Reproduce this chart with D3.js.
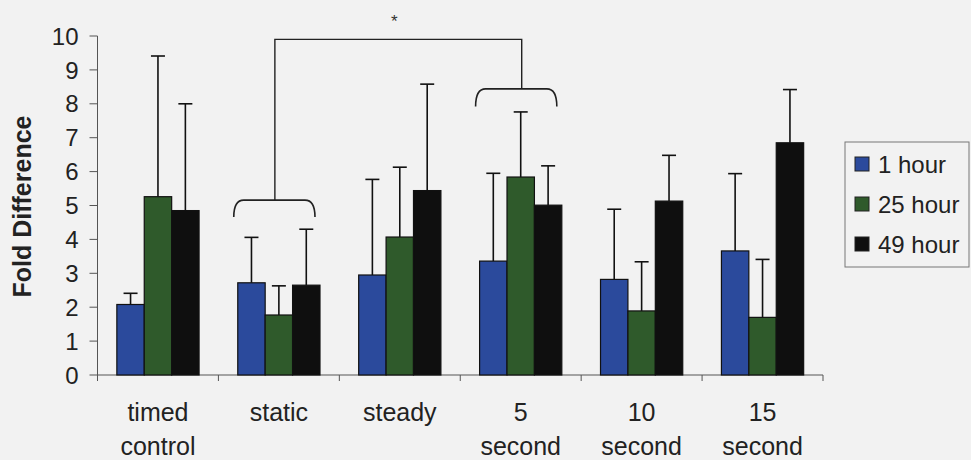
<!DOCTYPE html>
<html>
<head>
<meta charset="utf-8">
<script src="https://cdn.jsdelivr.net/npm/d3@7"></script>
<style>
  body { margin: 0; background: #f2f2f2; }
  svg { display: block; font-family: Arial, "Liberation Sans", sans-serif; }
</style>
</head>
<body>
<div id="chart"></div>
<script>
// data
var categories = [["timed", "control"], ["static"], ["steady"], ["5", "second"], ["10", "second"], ["15", "second"]];
var seriesNames = ["1 hour", "25 hour", "49 hour"];
var colors = ["#2b4a9c", "#2f5a2b", "#0f0f0f"];

var hour1 = [2.08, 2.72, 2.95, 3.36, 2.82, 3.66];
var hour25 = [5.26, 1.77, 4.07, 5.84, 1.89, 1.70];
var hour49 = [4.85, 2.65, 5.44, 5.01, 5.13, 6.85];

var err1 = [0.33, 1.34, 2.82, 2.59, 2.07, 2.28];
var err25 = [4.15, 0.86, 2.06, 1.92, 1.45, 1.71];
var err49 = [3.15, 1.65, 3.14, 1.16, 1.35, 1.57];

var yTicks = [0, 1, 2, 3, 4, 5, 6, 7, 8, 9, 10];

var values = [hour1, hour25, hour49];
var errors = [err1, err25, err49];

var width = 971, height = 460;
var margin = { top: 36, right: 148, bottom: 85, left: 97.5 };

var svg = d3.select("#chart").append("svg")
    .attr("width", width)
    .attr("height", height);

var g = svg.append("g").attr("transform", "translate(" + margin.left + "," + margin.top + ")");
var innerW = width - margin.left - margin.right;
var innerH = height - margin.top - margin.bottom;

var x0 = d3.scaleBand()
    .domain(d3.range(categories.length))
    .range([0, innerW])
    .paddingInner(0.32)
    .paddingOuter(0.16);

var x1 = d3.scaleBand()
    .domain(d3.range(seriesNames.length))
    .range([0, x0.bandwidth()]);

var y = d3.scaleLinear().domain([0, 10]).range([innerH, 0]);

// y axis
g.append("line")
    .attr("x1", 0).attr("x2", 0)
    .attr("y1", y(0)).attr("y2", y(10))
    .attr("stroke", "#555");

g.selectAll(".ytick")
    .data(yTicks)
    .join("line")
    .attr("x1", -8).attr("x2", 0)
    .attr("y1", d => y(d)).attr("y2", d => y(d))
    .attr("stroke", "#555");

g.selectAll(".ylab")
    .data(yTicks)
    .join("text")
    .attr("x", -19)
    .attr("y", d => y(d))
    .attr("dy", "0.36em")
    .attr("text-anchor", "end")
    .attr("font-size", 24)
    .attr("fill", "#222")
    .text(d => d);

svg.append("text")
    .attr("transform", "translate(31," + (margin.top + innerH / 2 + 1) + ") rotate(-90)")
    .attr("text-anchor", "middle")
    .attr("font-size", 25)
    .attr("font-weight", "bold")
    .attr("fill", "#222")
    .text("Fold Difference");

// x axis
g.append("line")
    .attr("x1", 0).attr("x2", innerW)
    .attr("y1", y(0)).attr("y2", y(0))
    .attr("stroke", "#555");

var step = innerW / categories.length;
g.selectAll(".xtick")
    .data(d3.range(categories.length + 1))
    .join("line")
    .attr("x1", d => d * step).attr("x2", d => d * step)
    .attr("y1", y(0)).attr("y2", y(0) + 6)
    .attr("stroke", "#555");

var xlab = g.selectAll(".xlab")
    .data(categories)
    .join("text")
    .attr("text-anchor", "middle")
    .attr("font-size", 25)
    .attr("fill", "#222")
    .attr("transform", (d, i) => "translate(" + (x0(i) + x0.bandwidth() / 2) + "," + (y(0) + 46) + ")");
xlab.selectAll("tspan")
    .data(d => d)
    .join("tspan")
    .attr("x", 0)
    .attr("dy", (d, i) => i === 0 ? 0 : 34)
    .text(d => d);

// bars and error bars
seriesNames.forEach(function (name, s) {
    var sg = g.append("g");
    sg.selectAll("rect")
        .data(values[s])
        .join("rect")
        .attr("x", (d, i) => x0(i) + x1(s))
        .attr("y", d => y(d))
        .attr("width", x1.bandwidth())
        .attr("height", d => y(0) - y(d))
        .attr("fill", colors[s])
        .attr("stroke", "#111")
        .attr("stroke-width", 1.2);

    var eg = sg.selectAll(".err")
        .data(values[s])
        .join("g");
    eg.append("line")
        .attr("x1", (d, i) => x0(i) + x1(s) + x1.bandwidth() / 2)
        .attr("x2", (d, i) => x0(i) + x1(s) + x1.bandwidth() / 2)
        .attr("y1", d => y(d))
        .attr("y2", (d, i) => y(d + errors[s][i]))
        .attr("stroke", "#111")
        .attr("stroke-width", 1.6);
    eg.append("line")
        .attr("x1", (d, i) => x0(i) + x1(s) + x1.bandwidth() / 2 - 7)
        .attr("x2", (d, i) => x0(i) + x1(s) + x1.bandwidth() / 2 + 7)
        .attr("y1", (d, i) => y(d + errors[s][i]))
        .attr("y2", (d, i) => y(d + errors[s][i]))
        .attr("stroke", "#111")
        .attr("stroke-width", 1.6);
});

// significance brackets: static vs 5 second
function brace(cat, top, drop) {
    var xa = x0(cat) - 4, xb = x0(cat) + x0.bandwidth() - 5;
    var yt = y(top), yb = y(top - drop);
    var p = d3.path();
    p.moveTo(xa, yb);
    p.quadraticCurveTo(xa, yt, xa + 10, yt);
    p.lineTo(xb - 10, yt);
    p.quadraticCurveTo(xb, yt, xb, yb);
    g.append("path").attr("d", p.toString())
        .attr("fill", "none").attr("stroke", "#222").attr("stroke-width", 1.6);
}
brace(1, 5.16, 0.5);
brace(3, 8.44, 0.52);

var cA = x0(1) + x0.bandwidth() / 2 - 4;
var cB = x0(3) + x0.bandwidth() / 2 + 1;
g.append("path")
    .attr("d", "M" + cA + "," + y(5.16) + "V" + y(9.9) + "H" + cB + "V" + y(8.44))
    .attr("fill", "none").attr("stroke", "#222").attr("stroke-width", 1.4);

g.append("text")
    .attr("x", (cA + cB) / 2 - 4)
    .attr("y", y(9.9) - 12)
    .attr("text-anchor", "middle")
    .attr("font-size", 17)
    .attr("fill", "#333")
    .text("*");

// legend
var lg = svg.append("g").attr("transform", "translate(845,142)");
lg.append("rect")
    .attr("width", 124).attr("height", 125)
    .attr("fill", "none").attr("stroke", "#777");
var li = lg.selectAll(".li")
    .data(seriesNames)
    .join("g")
    .attr("transform", (d, i) => "translate(10," + (22 + i * 40) + ")");
li.append("rect")
    .attr("x", 0).attr("y", -7)
    .attr("width", 14).attr("height", 14)
    .attr("fill", (d, i) => colors[i])
    .attr("stroke", "#222");
li.append("text")
    .attr("x", 23)
    .attr("dy", "0.36em")
    .attr("font-size", 24)
    .attr("fill", "#222")
    .text(d => d);
</script>
</body>
</html>
